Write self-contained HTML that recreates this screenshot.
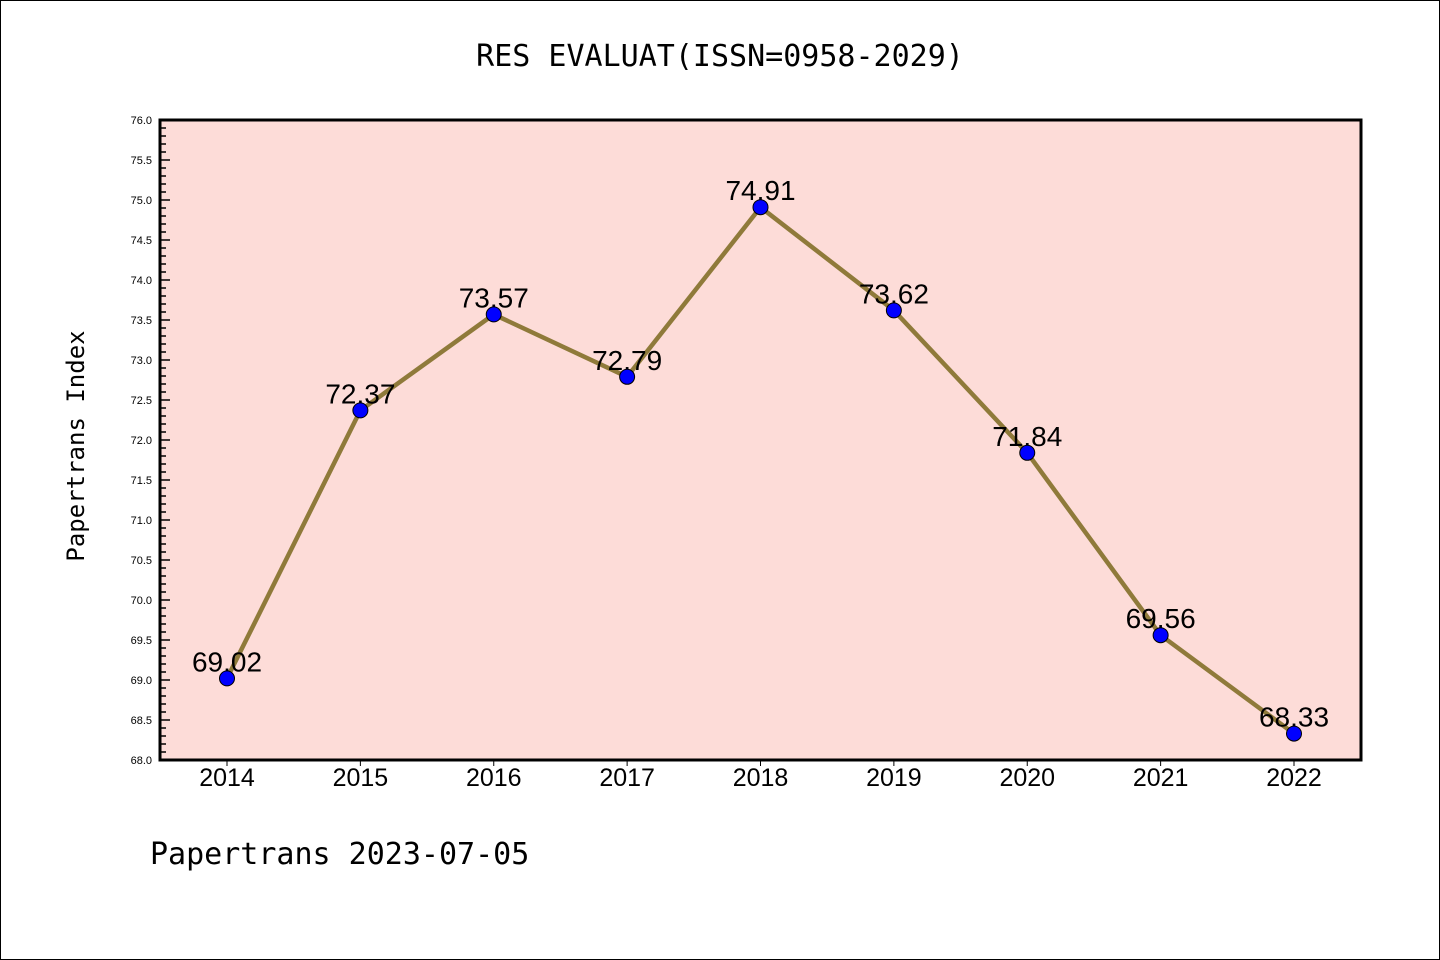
<!DOCTYPE html>
<html><head><meta charset="utf-8"><style>
body{margin:0;background:#fff;}
svg{display:block;font-family:"Liberation Sans","DejaVu Sans",sans-serif;}
</style></head><body>
<svg id="chart" width="1440" height="960" xmlns="http://www.w3.org/2000/svg">
<rect x="0.5" y="0.5" width="1439" height="959" fill="#fff" stroke="#000"/>
<text x="720" y="66" text-anchor="middle" font-size="30" font-family="'DejaVu Sans Mono','Liberation Mono',monospace">RES EVALUAT(ISSN=0958-2029)</text>
<rect x="160" y="120" width="1201" height="640" fill="#fddcd8"/>
<g id="yticks"></g><g id="xticks"></g><g id="series"></g>
<rect x="160" y="120" width="1201" height="640" fill="none" stroke="#000" stroke-width="3"/>
<text transform="translate(84,446) rotate(-90)" text-anchor="middle" font-size="24" font-family="'DejaVu Sans Mono','Liberation Mono',monospace">Papertrans Index</text>
<text x="150" y="864" font-size="30" font-family="'DejaVu Sans Mono','Liberation Mono',monospace">Papertrans 2023-07-05</text>
</svg>
<script>
const years=["2014","2015","2016","2017","2018","2019","2020","2021","2022"];
const values=[69.02,72.37,73.57,72.79,74.91,73.62,71.84,69.56,68.33];
const labels=["69.02","72.37","73.57","72.79","74.91","73.62","71.84","69.56","68.33"];
const yMin=68,yMax=76;
const NS="http://www.w3.org/2000/svg";
function X(i){return 227+i*(1294-227)/(years.length-1);}
function Y(v){return 760-(v-yMin)/(yMax-yMin)*640;}
function mk(t,a,p){const e=document.createElementNS(NS,t);for(const k in a)e.setAttribute(k,a[k]);p.appendChild(e);return e;}
const yt=document.getElementById('yticks');
for(let k=0;k<=80;k++){const v=yMin+k*0.1;const major=k%5===0;
 const l=mk('line',{x1:160,x2:160+(major?10:6),y1:Y(v),y2:Y(v),stroke:'#000','stroke-width':1.5},yt);
 
 
 if(major){const t=mk('text',{x:152,y:Y(v)+4,'text-anchor':'end','font-size':11},yt);t.textContent=v.toFixed(1);
 
 }}
const xt=document.getElementById('xticks');
years.forEach((y,i)=>{const l=mk('line',{x1:X(i),x2:X(i),y1:760,y2:766,stroke:'#000','stroke-width':1},xt);
 
 
 const t=mk('text',{x:X(i),y:786,'text-anchor':'middle','font-size':25},xt);t.textContent=y;
 
 });
const s=document.getElementById('series');
const pl=mk('polyline',{points:values.map((v,i)=>X(i)+','+Y(v)).join(' '),fill:'none',stroke:'#8f7a3a','stroke-width':4.5},s);


values.forEach((v,i)=>{
 const t=mk('text',{x:X(i),y:Y(v)-7,'text-anchor':'middle','font-size':28},s);t.textContent=labels[i];
 
 });
values.forEach((v,i)=>{
 const c=mk('circle',{cx:X(i),cy:Y(v),r:7.5,fill:'#0000ff',stroke:'#000','stroke-width':1},s);
 
 });
</script>
</body></html>
